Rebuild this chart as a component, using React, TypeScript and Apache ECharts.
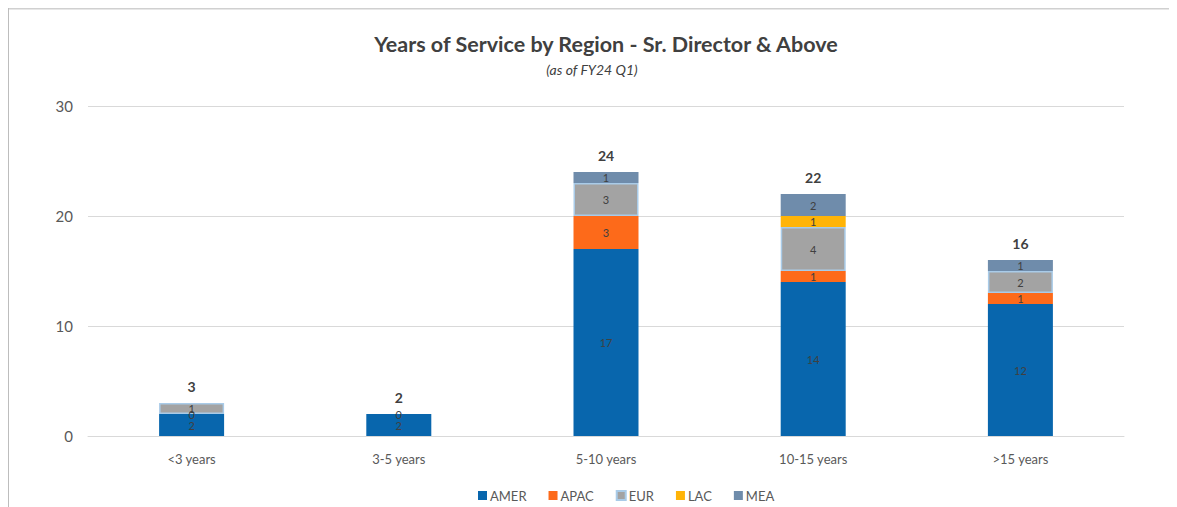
import React, { useEffect, useRef } from "react";
import * as echarts from "echarts";

const categories = ["<3 years", "3-5 years", "5-10 years", "10-15 years", ">15 years"];
const amer = [2, 2, 17, 14, 12];
const apac = [0, 0, 3, 1, 1];
const eur = [1, null, 3, 4, 2];
const lac = [null, null, null, 1, null];
const mea = [null, null, 1, 2, 1];
const totals = [3, 2, 24, 22, 16];
const yTicks = [0, 10, 20, 30];

const FONT = "Lato, 'Open Sans', sans-serif";

export default function App() {
  const ref = useRef<HTMLDivElement>(null);
  useEffect(() => {
    if (!ref.current) return;
    const chart = echarts.init(ref.current, null, { renderer: "svg" });
    const segLabel = {
      show: true,
      position: "inside",
      color: "#404040",
      fontSize: 11,
      fontFamily: FONT,
    };
    const mk = (name: string, data: any[], color: string, extra: any = {}) => ({
      name,
      type: "bar",
      stack: "total",
      data,
      barWidth: 65,
      itemStyle: { color, ...extra },
      label: segLabel,
      emphasis: { disabled: true },
    });
    chart.setOption({
      animation: false,
      textStyle: { fontFamily: FONT },
      title: [
        {
          text: "Years of Service by Region - Sr. Director & Above",
          left: 593,
          textAlign: "center",
          top: 20,
          textStyle: { fontSize: 21.5, fontWeight: "bold", color: "#404040", fontFamily: FONT },
        },
        {
          text: "(as of FY24 Q1)",
          left: 579,
          textAlign: "center",
          top: 49,
          textStyle: { fontSize: 14, fontStyle: "italic", fontWeight: "normal", color: "#404040", fontFamily: FONT },
        },
      ],
      legend: {
        data: ["AMER", "APAC", "EUR", "LAC", "MEA"],
        left: 465,
        bottom: 0,
        icon: "rect",
        itemWidth: 9,
        itemHeight: 9,
        itemGap: 22,
        textStyle: { fontSize: 13, color: "#595959", fontFamily: FONT, padding: [0, 0, 0, -2] },
      },
      grid: { left: 80, right: 53, top: 98, bottom: 71, containLabel: false },
      xAxis: {
        type: "category",
        data: categories,
        axisLine: { show: true, lineStyle: { color: "#d9d9d9", width: 1 } },
        axisTick: { show: false },
        axisLabel: { color: "#595959", fontSize: 13, margin: 16, fontFamily: FONT },
      },
      yAxis: {
        type: "value",
        min: yTicks[0],
        max: yTicks[yTicks.length - 1],
        interval: 10,
        axisLine: { show: false },
        axisTick: { show: false },
        splitLine: { lineStyle: { color: "#d9d9d9", width: 1 } },
        axisLabel: { color: "#595959", fontSize: 15, margin: 15, fontFamily: FONT },
      },
      series: [
        mk("AMER", amer, "#0866ad"),
        mk("APAC", apac, "#fd6a1a"),
        mk("EUR", eur, "#a3a3a3", { borderColor: "#a9cbe8", borderWidth: 1.5 }),
        mk("LAC", lac, "#ffb407"),
        mk("MEA", mea, "#6f8cab"),
        {
          name: "Total",
          type: "line",
          data: totals,
          symbol: "circle",
          symbolSize: 2,
          showSymbol: true,
          itemStyle: { color: "rgba(0,0,0,0)", borderWidth: 0 },
          lineStyle: { width: 0, color: "rgba(0,0,0,0)" },
          label: {
            show: true,
            position: "top",
            distance: 9,
            color: "#404040",
            fontSize: 14,
            fontWeight: "bold",
            fontFamily: FONT,
          },
          emphasis: { disabled: true },
          silent: true,
          z: 10,
        },
      ],
      graphic: [
        { type: "line", shape: { x1: 0, y1: 0.5, x2: 1169, y2: 0.5 }, style: { stroke: "#d0d0d0", lineWidth: 2 } },
        { type: "line", shape: { x1: 0, y1: 0, x2: 0, y2: 499 }, style: { stroke: "#bdbdbd", lineWidth: 2 } },
      ],
    });
    return () => chart.dispose();
  }, []);
  return <div ref={ref} style={{ width: 1169, height: 499 }} />;
}
